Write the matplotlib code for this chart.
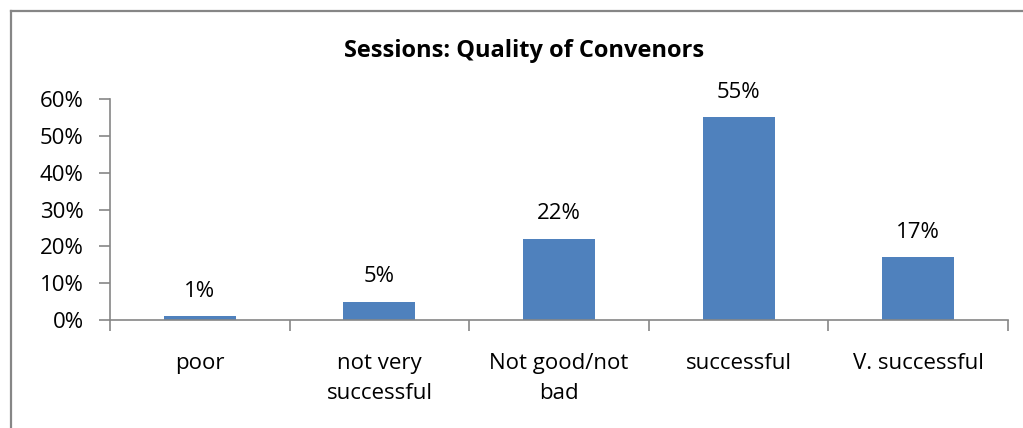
import numpy as np
import matplotlib.pyplot as plt
from matplotlib.lines import Line2D

# data
categories = ['poor', 'not very\nsuccessful', 'Not good/not\nbad', 'successful', 'V. successful']
values = [1, 5, 22, 55, 17]
labels = ['1%', '5%', '22%', '55%', '17%']
yticks = [0, 10, 20, 30, 40, 50, 60]

plt.rcParams['font.family'] = ['Open Sans', 'DejaVu Sans']
fs = 16

fig = plt.figure(figsize=(10.23, 4.28), dpi=100)
ax = fig.add_axes([110 / 1023, 1 - 320 / 428, 898 / 1023, 221 / 428])

x = np.arange(len(categories))
ax.bar(x, values, width=0.4, color='#4F81BD')

for xi, v, lab in zip(x, values, labels):
    ax.text(xi, v + 4, lab, ha='center', va='bottom', fontsize=fs)

ax.set_xlim(-0.5, len(categories) - 0.5)
ax.set_ylim(0, 60)
ax.set_yticks(yticks)
ax.set_yticklabels([f'{t}%' for t in yticks], fontsize=fs)
ax.set_xticks(x)
ax.set_xticklabels(categories, fontsize=fs, linespacing=1.55, va='top')
ax.set_xticks(np.arange(-0.5, len(categories)), minor=True)
ax.tick_params(axis='x', which='major', length=0, pad=24)
ax.tick_params(axis='x', which='minor', length=8, color='#868686', width=1.2)
ax.tick_params(axis='y', length=8, color='#868686', width=1.2, pad=11)

for s in ['top', 'right']:
    ax.spines[s].set_visible(False)
for s in ['left', 'bottom']:
    ax.spines[s].set_color('#868686')
    ax.spines[s].set_linewidth(1.2)

fig.text(524 / 1023, 1 - 51 / 428, 'Sessions: Quality of Convenors',
         ha='center', va='center', fontsize=17, fontweight='bold')

# chart frame (cropped on right and bottom)
fig.add_artist(Line2D([11 / 1023, 11 / 1023], [0, 1 - 11 / 428],
                      transform=fig.transFigure, color='#868686', lw=1.6))
fig.add_artist(Line2D([11 / 1023, 1], [1 - 11 / 428, 1 - 11 / 428],
                      transform=fig.transFigure, color='#868686', lw=1.6))

fig.savefig('out.png', dpi=100)
